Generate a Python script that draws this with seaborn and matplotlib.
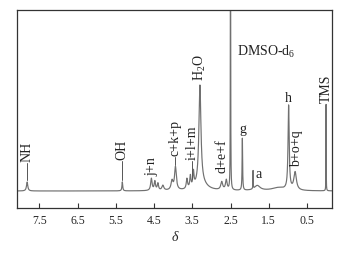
import numpy as np
import pandas as pd
import matplotlib
matplotlib.use("Agg")
import matplotlib.pyplot as plt
import seaborn as sns

# ---- data: peak list (chemical shift in ppm, relative intensity, half width) ----
shift_ppm = [7.82, 5.33, 4.57, 4.48, 4.40, 4.27, 4.03, 3.94, 3.64, 3.55, 3.47, 3.30, 3.25,
             2.73, 2.61, 2.50, 2.19, 1.91, 1.80, 1.25, 0.98, 0.81, 0.00]
peak_height = [9, 9, 12, 9, 7, 5, 9, 23, 10, 12, 15, 100, 6,
               8, 10, 400, 52, 18, 5, 3, 84, 18, 87]
peak_hwhm = [0.02, 0.012, 0.022, 0.02, 0.02, 0.03, 0.03, 0.028, 0.02, 0.018, 0.018, 0.032, 0.18,
             0.03, 0.025, 0.004, 0.008, 0.004, 0.09, 0.2, 0.018, 0.04, 0.003]

# peak labels: text, shift of the labelled peak
label_text = ["NH", "OH", "j+n", "c+k+p", "i+l+m", "H$_2$O", "d+e+f", "g", "a", "h", "b+o+q", "TMS"]
label_shift = [7.82, 5.33, 4.55, 3.94, 3.50, 3.30, 2.70, 2.19, 1.91, 0.98, 0.81, 0.00]

tick_values = [7.5, 6.5, 5.5, 4.5, 3.5, 2.5, 1.5, 0.5]
x_label = "δ"
solvent_label = "DMSO-d$_6$"

# ---- layout (label positions / styles) ----
label_layout = {
    # text: (x ppm, y text anchor, rotation, ha, va, draw leader)
    "NH": (7.82, 29, 90, "center", "bottom", True),
    "OH": (5.33, 31, 90, "center", "bottom", True),
    "j+n": (4.55, 15, 90, "center", "bottom", False),
    "c+k+p": (3.95, 35, 90, "center", "bottom", True),
    "i+l+m": (3.51, 31, 90, "center", "bottom", True),
    "H$_2$O": (3.31, 110, 90, "center", "bottom", False),
    "d+e+f": (2.73, 18, 90, "center", "bottom", False),
    "g": (2.18, 62, 0, "center", "center", False),
    "a": (1.76, 17, 0, "center", "center", False),
    "h": (0.99, 93, 0, "center", "center", False),
    "b+o+q": (0.76, 24, 90, "center", "bottom", False),
    "TMS": (0.00, 88, 90, "center", "bottom", False),
}

sns.set_style("ticks")
plt.rcParams["font.family"] = ["Liberation Serif", "DejaVu Serif"]
plt.rcParams["mathtext.default"] = "regular"

# build the spectrum from the peak list
x = np.linspace(8.085, -0.155, 9000)
y = np.zeros_like(x)
for c, h, w in zip(shift_ppm, peak_height, peak_hwhm):
    y += h * w**2 / ((x - c) ** 2 + w**2)
df = pd.DataFrame({"ppm": x, "intensity": y})

fig = plt.figure(figsize=(3.46, 2.54), dpi=100)
ax = fig.add_axes([17 / 346, 1 - 208 / 254, 315 / 346, 198 / 254])
sns.lineplot(data=df, x="ppm", y="intensity", ax=ax, color="#707070", lw=0.85,
             estimator=None, sort=False)

ax.set_xlim(8.085, -0.155)
ax.set_ylim(-17, 181)
ax.set_xticks(tick_values)
ax.set_xticklabels([f"{t:.1f}" for t in tick_values], fontsize=8.5)
ax.set_yticks([])
ax.set_ylabel("")
ax.set_xlabel(x_label, fontsize=10, style="italic", labelpad=3)
ax.tick_params(axis="x", direction="in", length=3.5, width=0.8, color="#333333", pad=5)
for s in ax.spines.values():
    s.set_visible(True)
    s.set_linewidth(0.9)
    s.set_color("#333333")

def curve_at(p):
    return float(np.interp(p, x[::-1], y[::-1]))

for txt, sp in zip(label_text, label_shift):
    lx, ly, rot, ha, va, leader = label_layout[txt]
    ax.text(lx, ly, txt, rotation=rot, ha=ha, va=va, fontsize=10, color="#222222")
    if leader:
        top = curve_at(sp)
        ax.plot([sp, sp], [top + 1.5, ly - 0.5], color="#555555", lw=0.7)

ax.text(2.33, 139, solvent_label, ha="left", va="center", fontsize=10, color="#222222")

fig.savefig("out.png", dpi=100)
